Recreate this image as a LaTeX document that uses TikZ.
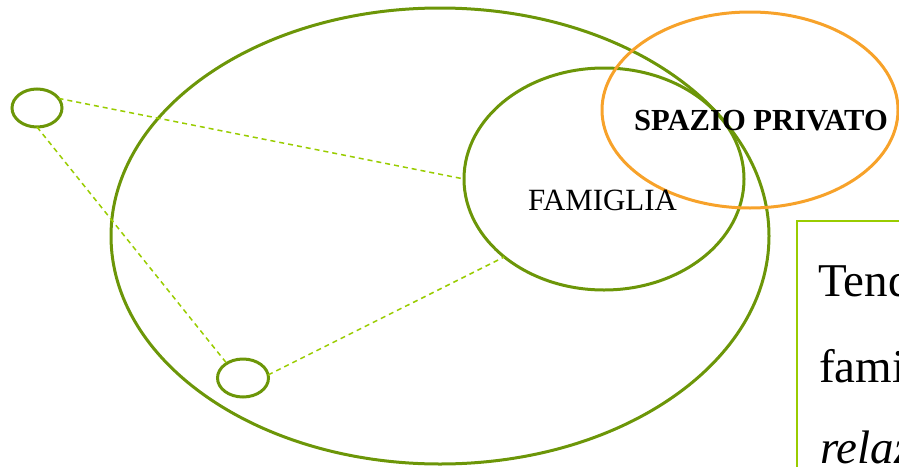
\documentclass[tikz,border=0pt]{standalone}
\usepackage{fontspec}
\setmainfont{Liberation Serif}
\usetikzlibrary{shapes.geometric}
\definecolor{olivegr}{RGB}{108,150,8}
\definecolor{orangeline}{RGB}{247,162,42}
\definecolor{yelgr}{RGB}{153,204,0}
\tikzset{
  ring/.style={ellipse, draw=olivegr, line width=3pt, inner sep=0pt, outer sep=0pt},
  orring/.style={ellipse, draw=orangeline, line width=3pt, inner sep=0pt, outer sep=0pt},
  link/.style={draw=yelgr, line width=1.5pt, dash pattern=on 5pt off 4pt},
  lbl/.style={anchor=base west, inner sep=0pt, text=black},
  bigtxt/.style={lbl, font=\fontsize{47}{56}\selectfont}
}
\begin{document}
\begin{tikzpicture}[x=1pt,y=-1pt]
\useasboundingbox (0,0) rectangle (899,466);
\clip (0,0) rectangle (899,466);
% text box
\draw[draw=yelgr, line width=1.6pt] (797,221) rectangle (930,490);
\node[bigtxt] (t1) at (818,296) {Tend};
\node[bigtxt] (t2) at (819,382) {fami};
\node[bigtxt, font=\fontsize{47}{56}\selectfont\itshape] (t3) at (820,463) {relaz};
% ellipses
\node[ring, minimum width=658pt, minimum height=456pt] (big) at (440,236) {};
\node[ring, minimum width=280pt, minimum height=222pt] (fam) at (604,179) {};
\node[orring, minimum width=296pt, minimum height=196pt] (priv) at (750,110) {};
\node[ring, minimum width=50pt, minimum height=38pt] (c1) at (37,108) {};
\node[ring, minimum width=51pt, minimum height=38pt] (c2) at (243,378) {};
% connectors
\draw[link] (c1.24) -- (fam.west);
\draw[link] (c1.south) -- (c2.138);
\draw[link] (c2.7) -- (fam.218);
% labels
\node[lbl, font=\fontsize{30.9}{36}\selectfont] (famlbl) at (528,210) {FAMIGLIA};
\node[lbl, font=\fontsize{30.6}{36}\selectfont\bfseries] (privlbl) at (634,130) {SPAZIO PRIVATO};
\end{tikzpicture}
\end{document}
